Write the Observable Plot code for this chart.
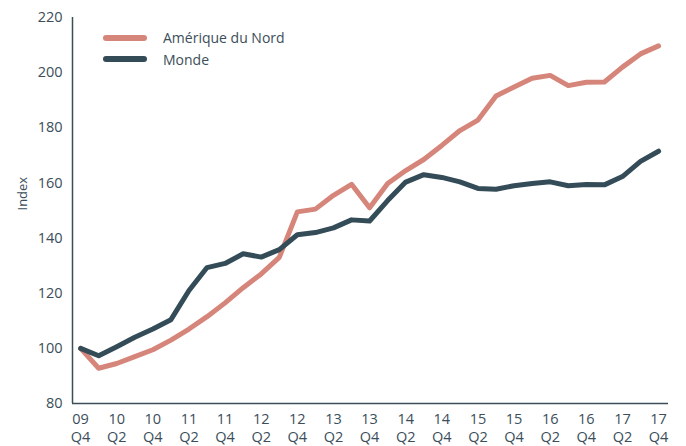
<!DOCTYPE html>
<html>
<head>
<meta charset="utf-8">
<script src="https://cdn.jsdelivr.net/npm/d3@7"></script>
<script src="https://cdn.jsdelivr.net/npm/@observablehq/plot@0.6"></script>
<style>
  html, body { margin: 0; padding: 0; background: #fff; }
  #wrap { position: relative; width: 686px; height: 446px; font-family: "Open Sans", sans-serif; color: #3b4e5a; }
  #legend { position: absolute; left: 103px; top: 27px; font-size: 14px; }
  .item { display: flex; align-items: center; height: 21.5px; }
  .sw { width: 44px; height: 6px; border-radius: 3px; margin-right: 16px; }
</style>
</head>
<body>
<div id="wrap"><div id="legend"></div></div>
<script>
const quarters = ["09 Q4","10 Q1","10 Q2","10 Q3","10 Q4","11 Q1","11 Q2","11 Q3","11 Q4","12 Q1","12 Q2","12 Q3","12 Q4","13 Q1","13 Q2","13 Q3","13 Q4","14 Q1","14 Q2","14 Q3","14 Q4","15 Q1","15 Q2","15 Q3","15 Q4","16 Q1","16 Q2","16 Q3","16 Q4","17 Q1","17 Q2","17 Q3","17 Q4"];
const ameriqueDuNord = [100, 92.8, 94.5, 97, 99.5, 103, 107, 111.5, 116.5, 122, 127, 133, 149.5, 150.5, 155.5, 159.5, 151, 159.8, 164.5, 168.5, 173.6, 179, 182.8, 191.5, 194.8, 198, 199, 195.3, 196.5, 196.6, 202, 206.8, 209.7];
const monde = [100, 97.3, 100.6, 104, 107, 110.4, 121, 129.3, 130.8, 134.3, 133.1, 135.8, 141.2, 142, 143.7, 146.6, 146.2, 153.6, 160.3, 163, 162, 160.4, 158, 157.7, 159, 159.8, 160.4, 159, 159.4, 159.3, 162.3, 167.8, 171.5];
const yTicks = [80, 100, 120, 140, 160, 180, 200, 220];
const seriesNames = ["Amérique du Nord", "Monde"];
const seriesColors = ["#d6857a", "#344c57"];

const data = [];
quarters.forEach((q, i) => {
  data.push({i, q, series: seriesNames[0], value: ameriqueDuNord[i]});
  data.push({i, q, series: seriesNames[1], value: monde[i]});
});
const xTicks = quarters.map((q, i) => i).filter(i => i % 2 === 0);
const axisColor = "#3b4e5a";

const chart = Plot.plot({
  width: 686,
  height: 446,
  marginLeft: 72,
  marginRight: 18,
  marginTop: 17,
  marginBottom: 43,
  style: {fontFamily: "Open Sans, sans-serif", fontSize: "14px", color: axisColor, background: "transparent"},
  x: {domain: [-0.45, quarters.length - 1 + 0.55]},
  y: {domain: [80, 220]},
  color: {domain: seriesNames, range: seriesColors},
  marks: [
    Plot.axisY({ticks: yTicks, tickSize: 0, tickPadding: 10, label: null, fontSize: 14.5}),
    Plot.axisX({ticks: xTicks, tickSize: 0, tickPadding: 8, label: null, fontSize: 14.5,
      lineHeight: 1.25, tickFormat: i => quarters[i].replace(" ", "\n")}),
    Plot.text(["Index"], {frameAnchor: "left", rotate: -90, dx: -50, fontSize: 13, fill: axisColor}),
    Plot.line(data, {x: "i", y: "value", z: "series", stroke: "series", strokeWidth: 5,
      strokeLinejoin: "round", strokeLinecap: "round"}),
    Plot.ruleX([-0.45], {stroke: axisColor, strokeWidth: 1.5}),
    Plot.ruleY([80], {stroke: axisColor, strokeWidth: 1.5})
  ]
});
document.getElementById("wrap").prepend(chart);

const legend = document.getElementById("legend");
seriesNames.forEach((name, k) => {
  const it = document.createElement("div");
  it.className = "item";
  it.innerHTML = `<div class="sw" style="background:${seriesColors[k]}"></div><span>${name}</span>`;
  legend.appendChild(it);
});
</script>
</body>
</html>
